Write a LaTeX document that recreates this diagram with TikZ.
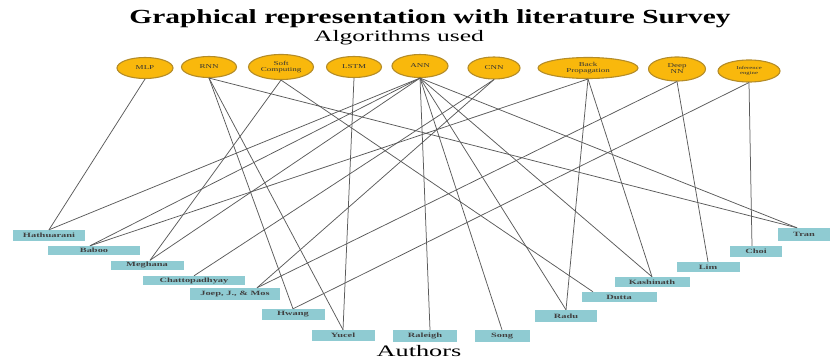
\documentclass[tikz,border=0pt]{standalone}
\usepackage{fontspec}
\setmainfont{Liberation Serif}
\usetikzlibrary{shapes.geometric}
\definecolor{ovalfill}{HTML}{F9B80C}
\definecolor{ovaldraw}{HTML}{B48C28}
\definecolor{boxfill}{HTML}{8FCBD2}
\definecolor{edgecol}{HTML}{5A5A5A}
\newcommand{\sx}[1]{\scalebox{1.5}[1]{#1}}
\newcommand{\bx}[1]{\scalebox{1.6}[1]{#1}}
\tikzset{
  algo/.style={ellipse, draw=ovaldraw, line width=1.1pt, fill=ovalfill, inner sep=0pt,
    minimum height=21pt, align=center, font=\fontsize{6}{6}\selectfont, text=black!80},
  author/.style={rectangle, fill=boxfill, inner sep=0pt, minimum height=11pt,
    font=\fontsize{6.5}{6.5}\selectfont\bfseries, text=black!75},
  link/.style={draw=edgecol, line width=0.75pt}
}
\begin{document}
\begin{tikzpicture}[x=1pt,y=-1pt]
\useasboundingbox (0,0) rectangle (830,361);
% titles
\node (title) at (430,19) {\scalebox{1.47}[1]{\fontsize{20}{20}\selectfont\bfseries Graphical representation with literature Survey}};
\node (algs) at (399,38) {\scalebox{1.6}[1]{\fontsize{16}{16}\selectfont Algorithms used}};
\node (auth) at (419,351) {\scalebox{1.64}[1]{\fontsize{16}{16}\selectfont Authors}};
% algorithms
\node[algo, minimum width=56pt] (mlp) at (145,68) {\sx{MLP}};
\node[algo, minimum width=55pt] (rnn) at (209,67) {\sx{RNN}};
\node[algo, minimum width=65pt, minimum height=25pt] (star) at (281,67) {\sx{Soft}\\\sx{Computing}};
\node[algo, minimum width=55pt] (lstm) at (354,67) {\sx{LSTM}};
\node[algo, minimum width=56pt, minimum height=23pt] (ann) at (420,66) {\sx{ANN}};
\node[algo, minimum width=52pt, minimum height=22pt] (cnn) at (494,68) {\sx{CNN}};
\node[algo, minimum width=100pt] (bp) at (588,68) {\sx{Back}\\\sx{Propagation}};
\node[algo, minimum width=57pt, minimum height=24pt] (deep) at (677,69) {\sx{Deep}\\\sx{NN}};
\node[algo, minimum width=62pt, minimum height=22pt, font=\fontsize{4.5}{5}\selectfont] (inf) at (749,71) {\sx{Inference}\\\sx{engine}};
% authors
\node[author, minimum width=72pt] (hath) at (49,235.5) {\bx{Hathuarani}};
\node[author, minimum width=92pt, minimum height=9pt] (baboo) at (94,250.5) {\bx{Baboo}};
\node[author, minimum width=73pt, minimum height=9pt] (megh) at (147,265) {\bx{Meghana}};
\node[author, minimum width=102pt, minimum height=9pt] (chat) at (194,280.5) {\bx{Chattopadhyay}};
\node[author, minimum width=90pt, minimum height=12pt] (joep) at (235,294) {\bx{Joep, J., \& Mos}};
\node[author, minimum width=63pt] (hwang) at (293,314.5) {\bx{Hwang}};
\node[author, minimum width=63pt] (yucel) at (343,335.5) {\bx{Yucel}};
\node[author, minimum width=64pt, minimum height=12pt] (ral) at (425,336) {\bx{Raleigh}};
\node[author, minimum width=55pt, minimum height=12pt] (song) at (502,336) {\bx{Song}};
\node[author, minimum width=62pt, minimum height=12pt] (radu) at (566,316) {\bx{Radu}};
\node[author, minimum width=75pt, minimum height=10pt] (dutta) at (619,297) {\bx{Dutta}};
\node[author, minimum width=75pt, minimum height=10pt] (kash) at (652,282) {\bx{Kashinath}};
\node[author, minimum width=63pt, minimum height=10pt] (lim) at (708,267) {\bx{Lim}};
\node[author, minimum width=52pt] (choi) at (756,251.5) {\bx{Choi}};
\node[author, minimum width=53pt, minimum height=13pt] (tran) at (804,234.5) {\bx{Tran}};
% connectors
\draw[link] (mlp.south) -- (hath.north);
\draw[link] (rnn.south) -- ([xshift=-7pt]tran.north);
\draw[link] (rnn.south) -- (hwang.north);
\draw[link] (rnn.south) -- (yucel.north);
\draw[link] (star.south) -- ([xshift=3pt]megh.north);
\draw[link] (star.south) -- ([xshift=-26pt]dutta.north);
\draw[link] (lstm.south) -- (yucel.north);
\draw[link] (ann.south) -- (hath.north);
\draw[link] (ann.south) -- ([xshift=-4pt]baboo.north);
\draw[link] (ann.south) -- ([xshift=3pt]megh.north);
\draw[link] (ann.south) -- ([xshift=5pt]ral.north);
\draw[link] (ann.south) -- (song.north);
\draw[link] (ann.south) -- (radu.north);
\draw[link] (ann.south) -- (kash.north);
\draw[link] (ann.south) -- ([xshift=-7pt]tran.north);
\draw[link] (cnn.south) -- (chat.north);
\draw[link] (cnn.south) -- ([xshift=22pt]joep.north);
\draw[link] (bp.south) -- ([xshift=-4pt]baboo.north);
\draw[link] (bp.south) -- (radu.north);
\draw[link] (bp.south) -- (kash.north);
\draw[link] (deep.south) -- (lim.north);
\draw[link] (deep.south) -- ([xshift=22pt]joep.north);
\draw[link] (inf.south) -- ([xshift=-4pt]choi.north);
\draw[link] (inf.south) -- (hwang.north);
\end{tikzpicture}
\end{document}
